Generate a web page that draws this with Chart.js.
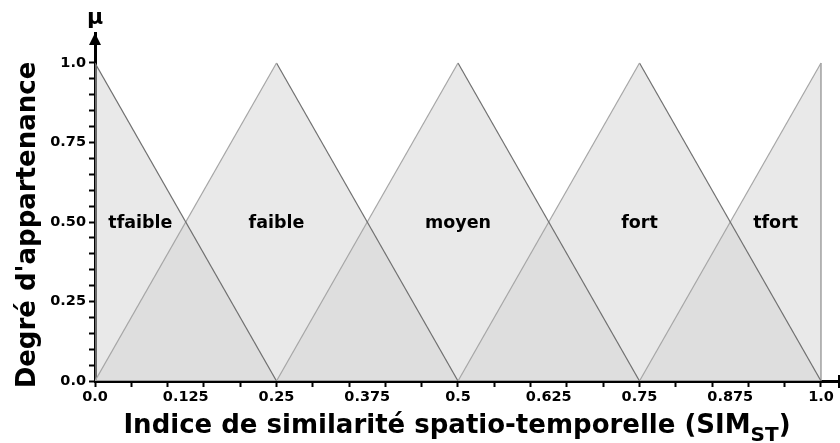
<!DOCTYPE html>
<html>
<head>
<meta charset="utf-8">
<script src="https://cdn.jsdelivr.net/npm/chart.js@4"></script>
<style>
  html, body { margin: 0; padding: 0; background: #fff; }
  #wrap { width: 840px; height: 443px; }
</style>
</head>
<body>
<div id="wrap"><canvas id="myChart"></canvas></div>
<script>
// fuzzy sets (triangles)
const categories = ["tfaible", "faible", "moyen", "fort", "tfort"];
const setX = [
  [0, 0.25],
  [0, 0.25, 0.5],
  [0.25, 0.5, 0.75],
  [0.5, 0.75, 1.0],
  [0.75, 1.0, 1.0],
];
const setY = [
  [1, 0],
  [0, 1, 0],
  [0, 1, 0],
  [0, 1, 0],
  [0, 1, 0],
];

// tick labels
const xTickValues = [0, 0.125, 0.25, 0.375, 0.5, 0.625, 0.75, 0.875, 1.0];
const xTickLabels = ["0.0", "0.125", "0.25", "0.375", "0.5", "0.625", "0.75", "0.875", "1.0"];
const yTickValues = [0, 0.25, 0.5, 0.75, 1.0];
const yTickLabels = ["0.0", "0.25", "0.50", "0.75", "1.0"];
const minorStep = 0.05;

const FONT = "'DejaVu Sans', sans-serif";

function near(a, b) {
  return Math.abs(a - b) < 1e-6;
}
function isMultiple(v, step) {
  const r = v / step;
  return Math.abs(r - Math.round(r)) < 1e-6;
}
function labelFor(values, labels, v) {
  const i = values.findIndex((t) => near(t, v));
  return i >= 0 ? labels[i] : "";
}
function points(i, from, to) {
  return setX[i].slice(from, to).map((x, j) => ({ x: x, y: setY[i][from + j] }));
}

// fills below (order 2), then rising edges (light) and falling edges (dark) on top
const datasets = [];
categories.forEach((name, i) => {
  datasets.push({
    label: name,
    data: points(i, 0, setX[i].length),
    order: 2,
    fill: "origin",
    backgroundColor: "rgba(212,212,212,0.5)",
    borderWidth: 0,
    pointRadius: 0,
    tension: 0,
  });
});
categories.forEach((name, i) => {
  const peak = setY[i].indexOf(1);
  if (peak > 0) {
    datasets.push({
      label: name + " rise",
      data: points(i, 0, peak + 1),
      order: 1,
      fill: false,
      borderColor: "#a6a6a6",
      borderWidth: 1.2,
      pointRadius: 0,
    });
  }
  datasets.push({
    label: name + " fall",
    data: points(i, peak, setX[i].length),
    order: 1,
    fill: false,
    borderColor: i === categories.length - 1 ? "#8c8c8c" : "#707070",
    borderWidth: 1.2,
    pointRadius: 0,
  });
});

// where each set dominates (membership >= 0.5), used to place its name
function labelCenter(i) {
  const peak = setX[i][setY[i].indexOf(1)];
  const lo = Math.max(0, peak - 0.125);
  const hi = Math.min(1, peak + 0.125);
  return (lo + hi) / 2;
}

const decorPlugin = {
  id: "decor",
  afterDraw(chart) {
    const ctx = chart.ctx;
    const xs = chart.scales.x;
    const ys = chart.scales.y;
    const area = chart.chartArea;
    ctx.save();

    // set names
    ctx.fillStyle = "#000";
    ctx.font = "bold 17.5px " + FONT;
    ctx.textAlign = "center";
    ctx.textBaseline = "middle";
    categories.forEach((name, i) => {
      ctx.fillText(name, xs.getPixelForValue(labelCenter(i)), ys.getPixelForValue(0.5) + 1);
    });

    // arrow on the y axis
    const ax = xs.getPixelForValue(0);
    ctx.beginPath();
    ctx.moveTo(ax, area.top);
    ctx.lineTo(ax - 6, area.top + 12);
    ctx.lineTo(ax + 6, area.top + 12);
    ctx.closePath();
    ctx.fill();

    // end mark on the x axis
    ctx.strokeStyle = "#000";
    ctx.lineWidth = 2;
    ctx.beginPath();
    ctx.moveTo(area.right - 1, area.bottom - 6);
    ctx.lineTo(area.right - 1, area.bottom + 7);
    ctx.stroke();

    // mu
    ctx.font = "bold 22px " + FONT;
    ctx.textBaseline = "alphabetic";
    ctx.fillText("\u00b5", ax, 24);

    // x title with subscript
    const main = "Indice de similarit\u00e9 spatio-temporelle (SIM";
    const sub = "ST";
    const close = ")";
    ctx.font = "bold 26px " + FONT;
    const w1 = ctx.measureText(main).width;
    const w3 = ctx.measureText(close).width;
    ctx.font = "bold 20px " + FONT;
    const w2 = ctx.measureText(sub).width;
    let x = 457 - (w1 + w2 + w3) / 2;
    ctx.textAlign = "left";
    ctx.font = "bold 26px " + FONT;
    ctx.fillText(main, x, 433);
    ctx.font = "bold 20px " + FONT;
    ctx.fillText(sub, x + w1, 441);
    ctx.font = "bold 26px " + FONT;
    ctx.fillText(close, x + w1 + w2, 433);

    // y title
    ctx.translate(35, 225);
    ctx.rotate(-Math.PI / 2);
    ctx.textAlign = "center";
    ctx.fillText("Degr\u00e9 d'appartenance", 0, 0);

    ctx.restore();
  },
};

const ctx = document.getElementById("myChart");

const chart = new Chart(ctx, {
  type: "line",
  data: { datasets: datasets },
  options: {
    responsive: true,
    maintainAspectRatio: false,
    animation: false,
    layout: { padding: { top: 33, left: 0, right: 0, bottom: 0 } },
    plugins: {
      legend: { display: false },
      tooltip: { enabled: false },
    },
    scales: {
      x: {
        type: "linear",
        min: 0,
        max: 745 / 726,
        z: 1,
        afterFit: (s) => {
          s.height = 62;
        },
        afterBuildTicks: (s) => {
          const t = [];
          for (let i = 0; i <= 40; i++) t.push({ value: Math.round(i * 25) / 1000 });
          s.ticks = t;
        },
        border: { display: true, color: "#000", width: 3 },
        grid: {
          drawOnChartArea: false,
          drawTicks: true,
          tickLength: 6,
          tickWidth: 2,
          tickColor: (c) => (c.tick && isMultiple(c.tick.value, minorStep) ? "#000" : "rgba(0,0,0,0)"),
        },
        ticks: {
          autoSkip: false,
          maxRotation: 0,
          padding: 2,
          color: "#000",
          font: { family: FONT, size: 14.5, weight: "bold" },
          callback: (v) => labelFor(xTickValues, xTickLabels, v),
        },
      },
      y: {
        type: "linear",
        min: 0,
        max: 348 / 318,
        z: 1,
        afterFit: (s) => {
          s.width = 95;
        },
        afterBuildTicks: (s) => {
          const t = [];
          for (let i = 0; i <= 20; i++) t.push({ value: Math.round(i * 50) / 1000 });
          s.ticks = t;
        },
        border: { display: true, color: "#000", width: 3 },
        grid: {
          drawOnChartArea: false,
          drawTicks: true,
          tickLength: 6,
          tickWidth: 2,
          tickColor: "#000",
        },
        ticks: {
          autoSkip: false,
          padding: 3,
          color: "#000",
          font: { family: FONT, size: 14.5, weight: "bold" },
          callback: (v) => labelFor(yTickValues, yTickLabels, v),
        },
      },
    },
  },
  plugins: [decorPlugin],
});
</script>
</body>
</html>
